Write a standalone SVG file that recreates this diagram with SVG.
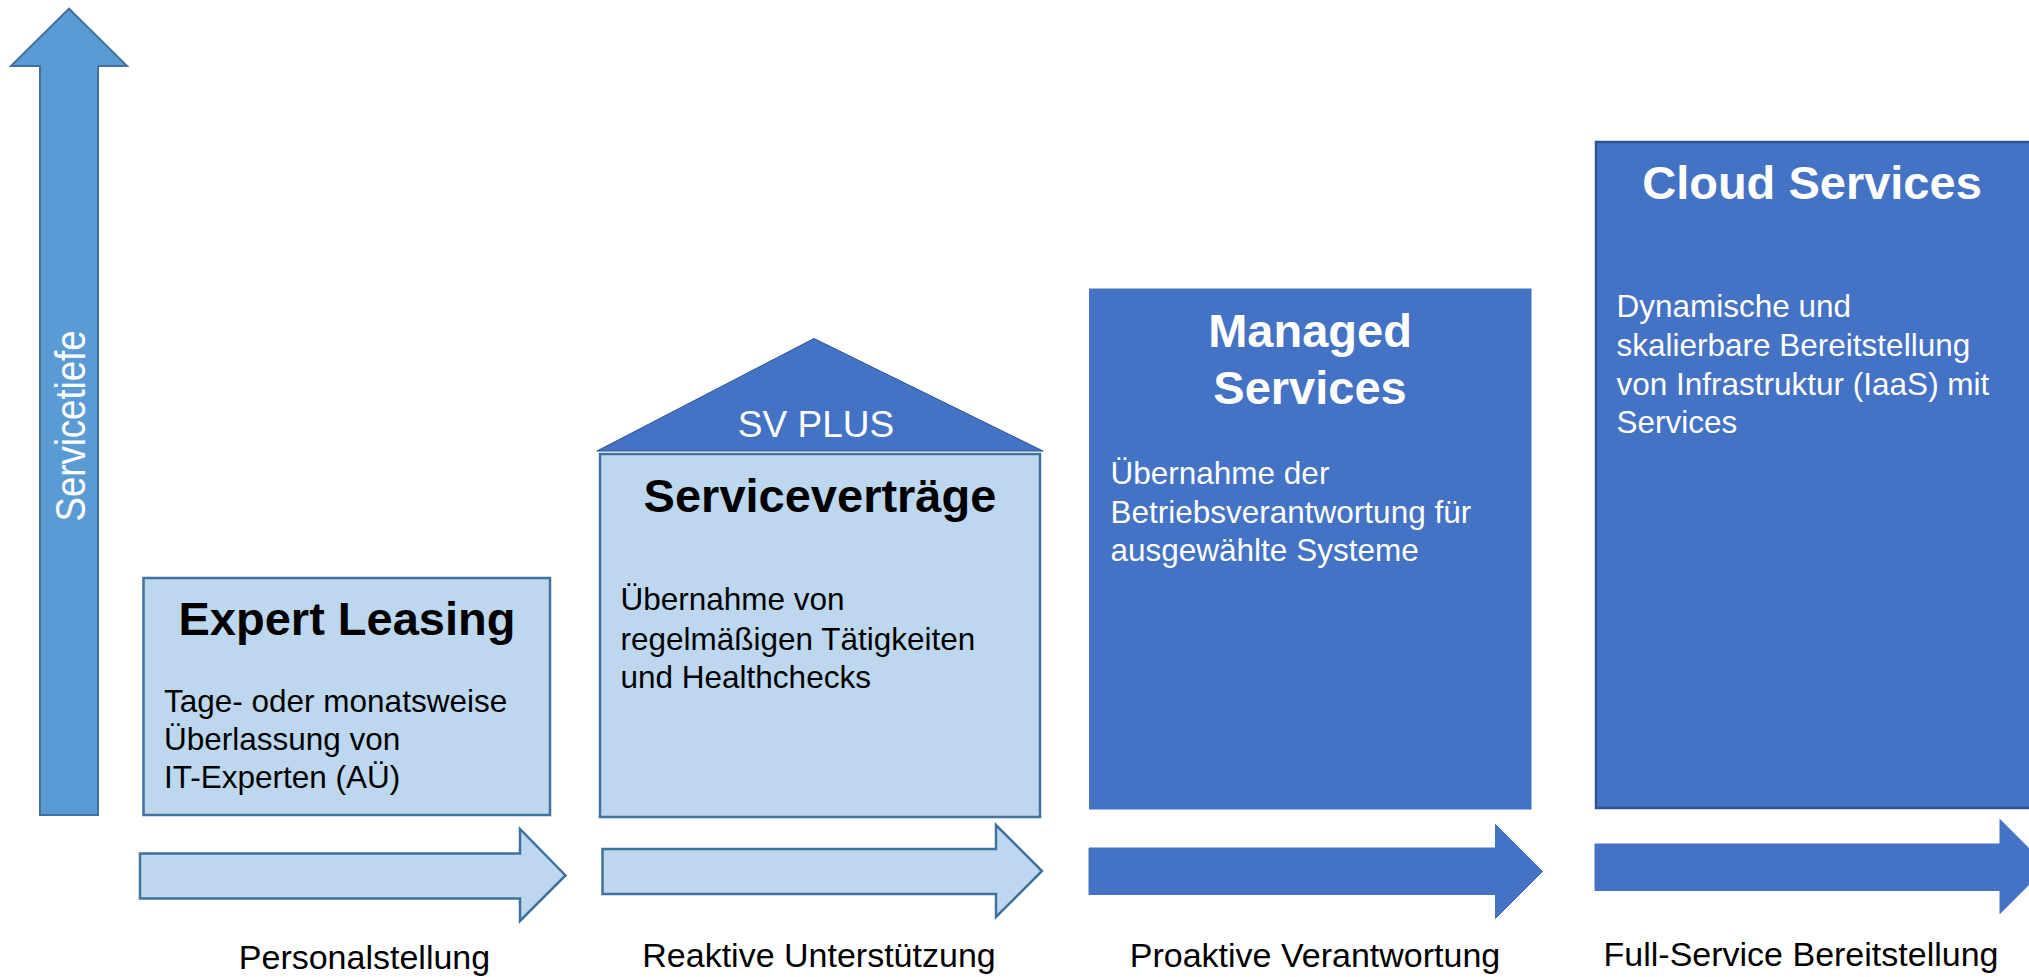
<svg xmlns="http://www.w3.org/2000/svg" width="2029" height="977" viewBox="0 0 2029 977">
<style>
text{font-family:"Liberation Sans",Arial,sans-serif}
.light{fill:#BDD7EE;stroke:#41719C;stroke-width:2.5}
.dark{fill:#4472C4;stroke:#4472C4;stroke-width:1}
.title{font-size:47px;font-weight:bold;text-anchor:middle}
.body{font-size:31.5px}
.lbl{font-size:34px;text-anchor:middle;fill:#000}
.w{fill:#FFFFFF}
.k{fill:#000000}
</style>
<rect width="2029" height="977" fill="#FFFFFF"/>
<g id="axis-servicetiefe">
<polygon points="40,815 40,66 11,66 69,8.7 127,66 98,66 98,815" fill="#5B9BD5" stroke="#41719C" stroke-width="2"/>
<text transform="translate(85,426) rotate(-90)" text-anchor="middle" font-size="42" textLength="191" lengthAdjust="spacingAndGlyphs" class="w">Servicetiefe</text>
</g>
<g id="connectors">
<polygon class="light" points="140,853.5 520,853.5 520,829 565.5,875.5 520,921 520,898.5 140,898.5"/>
<polygon class="light" points="602.5,849 996,849 996,825 1042,871 996,917 996,894 602.5,894"/>
<polygon class="dark" points="1089,848 1495.5,848 1495.5,824.5 1542.5,871.5 1495.5,918.5 1495.5,894.5 1089,894.5"/>
<polygon class="dark" points="1595,844 2000,844 2000,819.5 2047,866.5 2000,913.5 2000,890.5 1595,890.5"/>
</g>
<g id="node-expert-leasing">
<rect class="light" x="143.5" y="578" width="406.5" height="237"/>
<text class="title k" x="347" y="635">Expert Leasing</text>
<text class="body k" x="164" y="711.5">Tage- oder monatsweise</text>
<text class="body k" x="164" y="749.5">Überlassung von</text>
<text class="body k" x="164" y="788">IT-Experten (AÜ)</text>
</g>
<g id="node-servicevertraege">
<polygon points="597,451 814,338.5 1043,451" fill="#4472C4" stroke="#2F528F" stroke-width="1"/>
<text x="816" y="436.5" font-size="37" text-anchor="middle" class="w">SV PLUS</text>
<rect class="light" x="600" y="454" width="440" height="363"/>
<text class="title k" x="820" y="512">Serviceverträge</text>
<text class="body k" x="620.5" y="610">Übernahme von</text>
<text class="body k" x="620.5" y="649.5">regelmäßigen Tätigkeiten</text>
<text class="body k" x="620.5" y="687.5">und Healthchecks</text>
</g>
<g id="node-managed-services">
<rect class="dark" x="1089.5" y="289" width="441.5" height="520"/>
<text class="title w" x="1310" y="346.5">Managed</text>
<text class="title w" x="1310" y="404">Services</text>
<text class="body w" x="1110.5" y="484">Übernahme der</text>
<text class="body w" x="1110.5" y="523">Betriebsverantwortung für</text>
<text class="body w" x="1110.5" y="561">ausgewählte Systeme</text>
</g>
<g id="node-cloud-services">
<rect x="1596" y="142" width="440" height="666" fill="#4472C4" stroke="#2F528F" stroke-width="2.5"/>
<text class="title w" x="1812" y="199">Cloud Services</text>
<text class="body w" x="1616.5" y="316.5">Dynamische und</text>
<text class="body w" x="1616.5" y="356">skalierbare Bereitstellung</text>
<text class="body w" x="1616.5" y="394.5">von Infrastruktur (IaaS) mit</text>
<text class="body w" x="1616.5" y="433">Services</text>
</g>
<g id="labels">
<text class="lbl" x="364.5" y="969">Personalstellung</text>
<text class="lbl" x="819" y="967">Reaktive Unterstützung</text>
<text class="lbl" x="1315" y="967">Proaktive Verantwortung</text>
<text class="lbl" x="1801" y="966">Full-Service Bereitstellung</text>
</g>
</svg>
